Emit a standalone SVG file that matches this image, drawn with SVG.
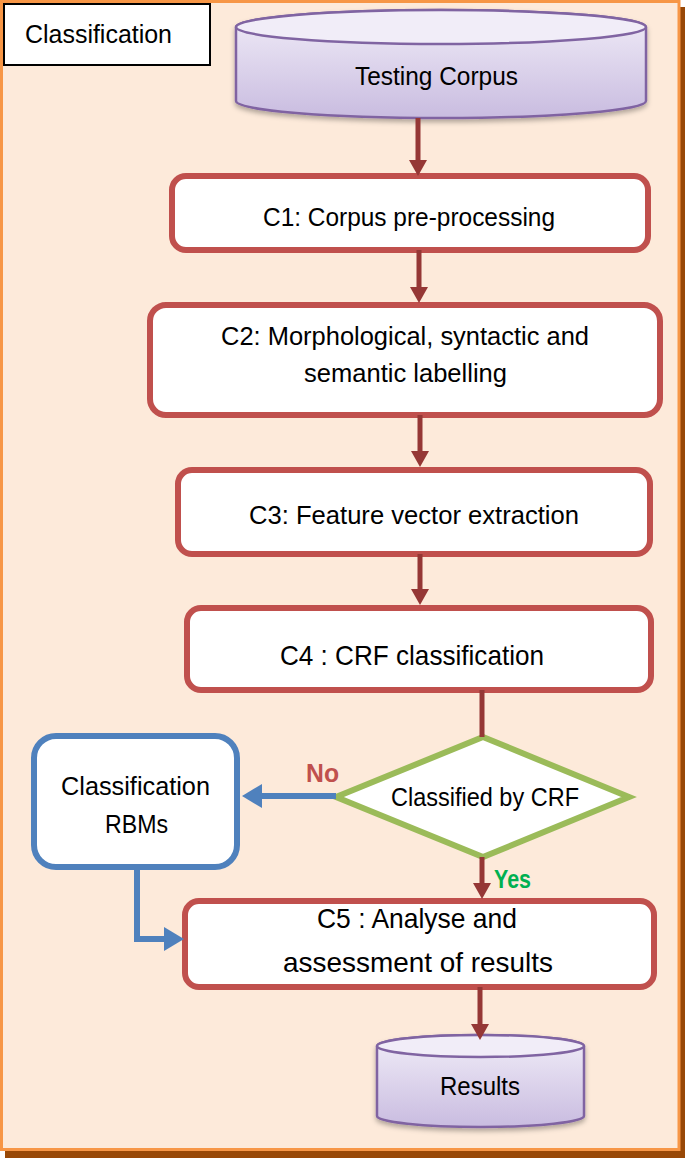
<svg xmlns="http://www.w3.org/2000/svg" width="685" height="1158" viewBox="0 0 685 1158">
<defs>
<style>
text{font-family:"Liberation Sans",Arial,sans-serif;fill:#000;}
.t{font-size:25px;text-anchor:middle;}
.tb{font-size:28px;text-anchor:middle;}
.proc{fill:#fff;stroke:#C0504D;stroke-width:6;}
.red{fill:none;stroke:#953735;stroke-width:5;}
.blue{fill:none;stroke:#4F81BD;stroke-width:6;}
.cyl{stroke:#8064A2;stroke-width:2.5;}
</style>
<linearGradient id="cylg" x1="0" y1="0" x2="0" y2="1">
<stop offset="0" stop-color="#F1EDF8"/>
<stop offset="1" stop-color="#C9BCE0"/>
</linearGradient>
<filter id="sh" x="-10%" y="-20%" width="120%" height="150%">
<feDropShadow dx="0" dy="3" stdDeviation="2.5" flood-color="#000" flood-opacity="0.3"/>
</filter>
<marker id="ar" markerUnits="userSpaceOnUse" markerWidth="16" markerHeight="18" refX="2" refY="9" orient="auto">
<path d="M0,0 L16,9 L0,18 Z" fill="#953735"/>
</marker>
<marker id="ab" markerUnits="userSpaceOnUse" markerWidth="20" markerHeight="24" refX="2" refY="12" orient="auto">
<path d="M0,0 L20,12 L0,24 Z" fill="#4F81BD"/>
</marker>
</defs>

<g id="frame">
<rect x="5" y="7" width="680" height="1151" fill="#984807"/>
<rect x="1.5" y="1.5" width="677.5" height="1148" fill="#FDEADA" stroke="#F79646" stroke-width="3"/>
</g>

<g id="title">
<rect x="4" y="4" width="206" height="61" fill="#fff" stroke="#000" stroke-width="2"/>
<text x="25" y="43" font-size="25" textLength="147" lengthAdjust="spacingAndGlyphs">Classification</text>
</g>

<g id="testing-corpus">
<path class="cyl" filter="url(#sh)" fill="url(#cylg)" d="M236,27 L236,101 A205,17 0 0 0 646,101 L646,27 A205,17 0 0 0 236,27 Z"/>
<ellipse class="cyl" cx="441" cy="27" rx="205" ry="17" fill="#F1EDF8"/>
<text class="t" x="436.5" y="85" textLength="163" lengthAdjust="spacingAndGlyphs">Testing Corpus</text>
</g>

<g id="c1">
<rect class="proc" x="172" y="176" width="476" height="74" rx="14"/>
<text class="t" x="409" y="226" textLength="292" lengthAdjust="spacingAndGlyphs">C1: Corpus pre-processing</text>
</g>

<g id="c2">
<rect class="proc" x="150" y="305" width="510" height="110" rx="16"/>
<text class="t" x="405" y="345" textLength="368" lengthAdjust="spacingAndGlyphs">C2: Morphological, syntactic and</text>
<text class="t" x="405.5" y="382" textLength="203" lengthAdjust="spacingAndGlyphs">semantic labelling</text>
</g>

<g id="c3">
<rect class="proc" x="178" y="470" width="472" height="84" rx="14"/>
<text class="t" x="414" y="524" textLength="330" lengthAdjust="spacingAndGlyphs">C3: Feature vector extraction</text>
</g>

<g id="c4">
<rect class="proc" x="187" y="608" width="464" height="82" rx="14"/>
<text class="tb" x="412" y="665" textLength="264" lengthAdjust="spacingAndGlyphs">C4 : CRF classification</text>
</g>

<g id="decision">
<polygon points="483,737 629,797 483,857 336,797" fill="#fff" stroke="#9BBB59" stroke-width="6"/>
<text class="t" x="485" y="806" textLength="188" lengthAdjust="spacingAndGlyphs">Classified by CRF</text>
</g>

<g id="rbm">
<rect x="34" y="736" width="203" height="131" rx="22" fill="#fff" stroke="#4F81BD" stroke-width="6"/>
<text class="t" x="135.5" y="795" textLength="149" lengthAdjust="spacingAndGlyphs">Classification</text>
<text class="t" x="136.5" y="833" textLength="63" lengthAdjust="spacingAndGlyphs">RBMs</text>
</g>

<g id="c5">
<rect class="proc" x="185" y="901" width="469" height="86" rx="14"/>
<text class="tb" x="417" y="928" textLength="200" lengthAdjust="spacingAndGlyphs">C5 : Analyse and</text>
<text class="tb" x="418" y="972" textLength="270" lengthAdjust="spacingAndGlyphs">assessment of results</text>
</g>

<g id="results">
<path class="cyl" filter="url(#sh)" fill="url(#cylg)" d="M377,1046 L377,1116 A103.5,11 0 0 0 584,1116 L584,1046 A103.5,11 0 0 0 377,1046 Z"/>
<ellipse class="cyl" cx="480.5" cy="1046" rx="103.5" ry="11" fill="#F1EDF8"/>
<text class="t" x="480" y="1095" textLength="80" lengthAdjust="spacingAndGlyphs">Results</text>
</g>

<g id="connectors">
<line class="red" x1="418" y1="118" x2="418" y2="162" marker-end="url(#ar)"/>
<line class="red" x1="419" y1="250" x2="419" y2="289" marker-end="url(#ar)"/>
<line class="red" x1="420" y1="415" x2="420" y2="453" marker-end="url(#ar)"/>
<line class="red" x1="420" y1="554" x2="420" y2="591" marker-end="url(#ar)"/>
<line class="red" x1="482" y1="690" x2="482" y2="737"/>
<line class="red" x1="482" y1="857" x2="482" y2="885" marker-end="url(#ar)"/>
<line class="red" x1="480" y1="987" x2="480" y2="1026" marker-end="url(#ar)"/>
<line class="blue" x1="336" y1="796" x2="260" y2="796" marker-end="url(#ab)"/>
<polyline class="blue" points="137,867 137,939 166,939" marker-end="url(#ab)"/>
<text x="306" y="782" font-size="25" font-weight="bold" style="fill:#C0504D" textLength="33" lengthAdjust="spacingAndGlyphs">No</text>
<text x="494" y="888" font-size="25" font-weight="bold" style="fill:#00B050" textLength="37" lengthAdjust="spacingAndGlyphs">Yes</text>
</g>
</svg>
